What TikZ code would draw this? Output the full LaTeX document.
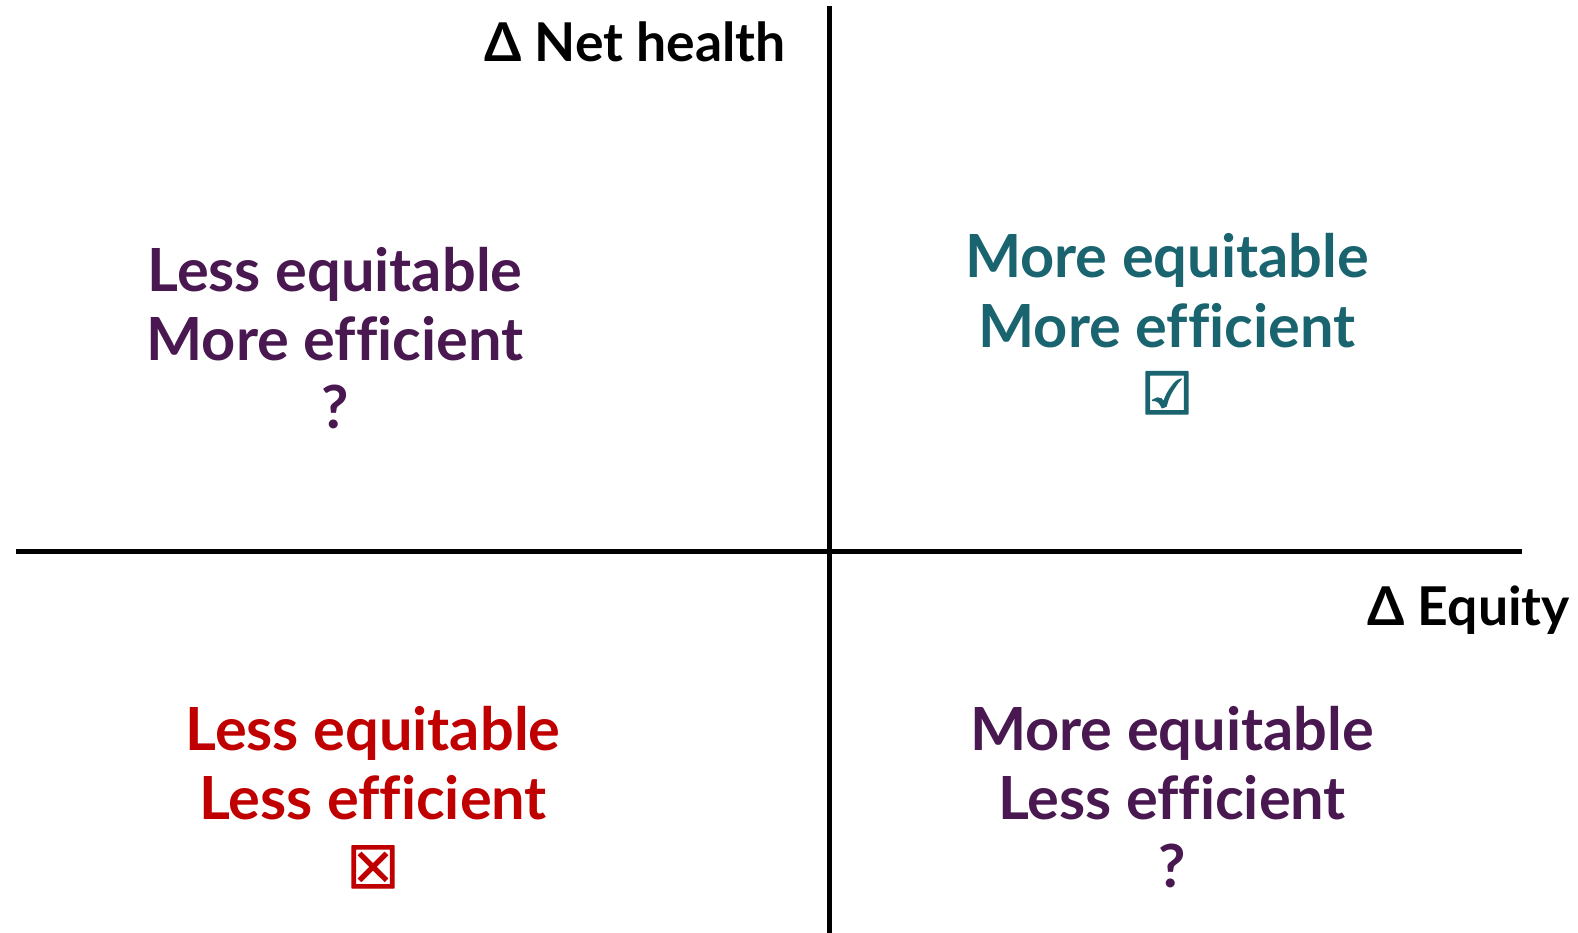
\documentclass[tikz,border=0pt]{standalone}
\usepackage{fontspec}
\setmainfont{Lato}[Ligatures={NoCommon}]
\newfontfamily\symfont[FakeBold=2.5]{DejaVu Sans}
\definecolor{teal}{HTML}{1A6470}
\definecolor{purp}{HTML}{4A1850}
\definecolor{redc}{HTML}{C00000}
\begin{document}
\begin{tikzpicture}[x=1pt,y=-1pt,
  lbl/.style={anchor=base,inner sep=0pt,font=\fontsize{59.5}{66}\selectfont\bfseries},
  axlbl/.style={anchor=base east,inner sep=0pt,font=\fontsize{53.5}{58}\selectfont\bfseries},
  sym/.style={anchor=base,inner sep=0pt,font=\fontsize{58}{60}\selectfont\symfont},
  axis/.style={line width=5pt}]
\useasboundingbox (0,0) rectangle (1578,933);
\coordinate (xl) at (16,551);
\coordinate (xr) at (1522,551);
\coordinate (yt) at (829,6);
\coordinate (yb) at (829,933);
\draw[axis] (xl) -- (xr);
\draw[axis] (yt) -- (yb);
\node[axlbl] (ny) at (786,62) {Δ Net health};
\node[axlbl] (nx) at (1570,625) {Δ Equity};
% top-left
\node[lbl,text=purp] (tl1) at (335,291) {Less equitable};
\node[lbl,text=purp] (tl2) at (335,360) {More efficient};
\node[lbl,text=purp] (tl3) at (335,428) {?};
% top-right
\node[lbl,text=teal] (tr1) at (1167,277) {More equitable};
\node[lbl,text=teal] (tr2) at (1167,347) {More efficient};
\node[sym,text=teal] (tr3) at (1167,414) {☑};
% bottom-left
\node[lbl,text=redc] (bl1) at (373,750) {Less equitable};
\node[lbl,text=redc] (bl2) at (373,819) {Less efficient};
\node[sym,text=redc] (bl3) at (373,888) {☒};
% bottom-right
\node[lbl,text=purp] (br1) at (1172,750) {More equitable};
\node[lbl,text=purp] (br2) at (1172,819) {Less efficient};
\node[lbl,text=purp] (br3) at (1172,887) {?};
\end{tikzpicture}
\end{document}
